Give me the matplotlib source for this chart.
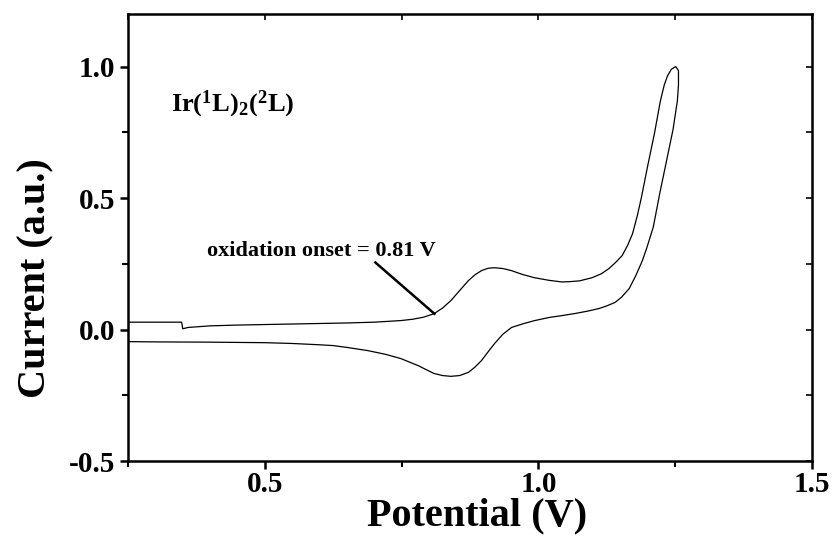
import matplotlib
matplotlib.use('Agg')
import matplotlib.pyplot as plt
from matplotlib.ticker import MultipleLocator

# forward (oxidation) scan
fwd_x = [0.25, 0.30, 0.348, 0.350, 0.36, 0.40, 0.45, 0.50, 0.55, 0.60, 0.65,
         0.70, 0.748, 0.77, 0.79, 0.809, 0.825, 0.84, 0.856, 0.872, 0.884,
         0.896, 0.908, 0.92, 0.935, 0.951, 0.97, 0.993, 1.02, 1.043, 1.056,
         1.075, 1.098, 1.115, 1.129, 1.141, 1.153, 1.163, 1.172, 1.181,
         1.188, 1.199, 1.212, 1.223, 1.230, 1.236, 1.243, 1.251]
fwd_y = [0.028, 0.028, 0.028, 0.003, 0.008, 0.014, 0.017, 0.019, 0.021,
         0.023, 0.025, 0.028, 0.034, 0.039, 0.047, 0.060, 0.082, 0.110,
         0.148, 0.186, 0.208, 0.224, 0.233, 0.235, 0.232, 0.224, 0.210,
         0.197, 0.187, 0.181, 0.182, 0.185, 0.197, 0.212, 0.232, 0.255,
         0.281, 0.320, 0.364, 0.435, 0.50, 0.615, 0.745, 0.87, 0.93, 0.965,
         0.99, 1.0]

# reverse (reduction) scan
rev_x = [1.251, 1.256, 1.256, 1.254, 1.246, 1.238, 1.231, 1.222, 1.210,
         1.198, 1.190, 1.178, 1.166, 1.152, 1.140, 1.125, 1.111, 1.090,
         1.067, 1.043, 1.020, 0.993, 0.972, 0.951, 0.935, 0.92, 0.908,
         0.896, 0.884, 0.872, 0.856, 0.84, 0.825, 0.809, 0.78, 0.748, 0.72,
         0.688, 0.65, 0.625, 0.60, 0.55, 0.50, 0.45, 0.40, 0.30, 0.25]
rev_y = [1.0, 0.985, 0.93, 0.87, 0.76, 0.68, 0.61, 0.52, 0.39, 0.31,
         0.262, 0.205, 0.156, 0.123, 0.103, 0.090, 0.080, 0.070, 0.061,
         0.053, 0.046, 0.034, 0.022, 0.008, -0.018, -0.053, -0.085,
         -0.118, -0.143, -0.163, -0.175, -0.178, -0.175, -0.167, -0.137,
         -0.110, -0.094, -0.080, -0.068, -0.061, -0.058, -0.053, -0.050,
         -0.049, -0.048, -0.047, -0.046]

onset_x = 0.81
onset_y = 0.06

plt.rcParams['font.family'] = 'Liberation Serif'
plt.rcParams['font.weight'] = 'bold'
plt.rcParams['axes.unicode_minus'] = False
plt.rcParams['mathtext.fontset'] = 'custom'
plt.rcParams['mathtext.rm'] = 'Liberation Serif:bold'
plt.rcParams['mathtext.bf'] = 'Liberation Serif:bold'

fig = plt.figure(figsize=(8.39, 5.43), dpi=100)
ax = fig.add_axes([0.1526, 0.151, 0.8152, 0.8232])

ax.plot(fwd_x + rev_x, fwd_y + rev_y, color='black', lw=0.9)

# tangent line marking the onset
ax.plot([0.702, onset_x], [0.255, onset_y], color='black', lw=1.8)
ax.text(0.395, 0.281, 'oxidation onset = 0.81 V', fontsize=16,
        fontweight='bold')
ax.text(0.329, 0.858, r'$\mathrm{Ir(^1L)_2(^2L)}$', fontsize=19,
        va='center')

ax.set_xlim(0.25, 1.5)
ax.set_ylim(-0.5, 1.2)
ax.xaxis.set_minor_locator(MultipleLocator(0.25))
ax.yaxis.set_minor_locator(MultipleLocator(0.25))
ax.set_yticks([-0.5, 0.0, 0.5, 1.0])
ax.set_xticks([0.5, 1.0, 1.5])

ax.tick_params(which='major', direction='out', length=6, width=1.8,
               labelsize=21, pad=3)
ax.tick_params(axis='x', which='major', pad=1)
ax.tick_params(which='minor', direction='out', length=4, width=1.5)
for lbl in ax.get_xticklabels() + ax.get_yticklabels():
    lbl.set_fontweight('bold')

for sp in ax.spines.values():
    sp.set_linewidth(1.8)

# inward ticks on top and right, no labels
top = ax.secondary_xaxis('top')
top.xaxis.set_major_locator(MultipleLocator(0.25))
top.tick_params(direction='in', length=4, width=1.2, labeltop=False)
right = ax.secondary_yaxis('right')
right.yaxis.set_major_locator(MultipleLocator(0.25))
right.tick_params(direction='in', length=4, width=1.2, labelright=False)

ax.set_xlabel('Potential (V)', fontsize=29, fontweight='bold')
ax.set_ylabel('Current (a.u.)', fontsize=29, fontweight='bold')
ax.xaxis.set_label_coords(0.511, -0.082)
ax.yaxis.set_label_coords(-0.107, 0.41)

fig.savefig('out.png', dpi=100)
